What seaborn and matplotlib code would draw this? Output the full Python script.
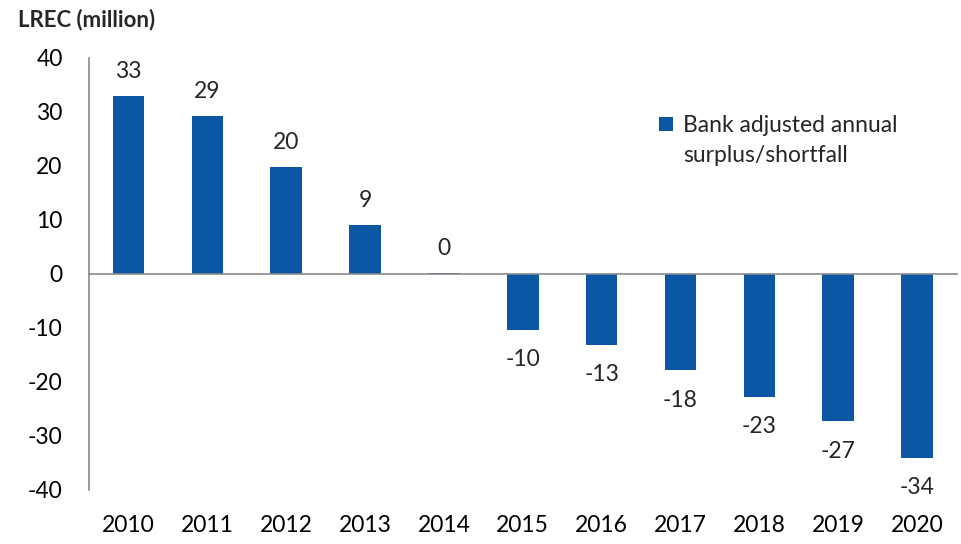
import numpy as np
import pandas as pd
import matplotlib
matplotlib.use("Agg")
import matplotlib.pyplot as plt
import seaborn as sns

# values (LREC, million)
years = ["2010", "2011", "2012", "2013", "2014", "2015",
         "2016", "2017", "2018", "2019", "2020"]
surplus = [32.8, 29.1, 19.7, 9.0, 0.1, -10.4, -13.2, -17.9, -22.8, -27.4, -34.1]
surplus_labels = [33, 29, 20, 9, 0, -10, -13, -18, -23, -27, -34]
y_ticks = [-40, -30, -20, -10, 0, 10, 20, 30, 40]
series_lines = ["Bank adjusted annual", "surplus/shortfall"]
y_title = "LREC (million)"

BAR_COLOR = "#0b57a4"
AXIS_GREY = "#8a8a8a"
FS = 16.5

sns.set_style("white")
plt.rcParams["font.family"] = ["Lato", "DejaVu Sans"]
plt.rcParams["axes.unicode_minus"] = False

df = pd.DataFrame({"year": years, "value": surplus})

fig = plt.figure(figsize=(9.61, 5.44), dpi=100)
ax = fig.add_axes([89 / 961, 1 - 489.5 / 544, (956.5 - 89) / 961, (489.5 - 57.5) / 544])

sns.barplot(data=df, x="year", y="value", color=BAR_COLOR, width=0.4,
            saturation=1, errorbar=None, linewidth=0, ax=ax,
            label=series_lines[0])

ax.set_ylim(-40, 40)
ax.set_xlim(-0.5, len(years) - 0.5)
ax.set_xlabel("")
ax.set_ylabel("")

# spines: left axis plus a zero line with category separators
for side in ["top", "right"]:
    ax.spines[side].set_visible(False)
ax.spines["left"].set_color(AXIS_GREY)
ax.spines["left"].set_linewidth(1.2)
ax.spines["bottom"].set_position(("data", 0))
ax.spines["bottom"].set_color(AXIS_GREY)
ax.spines["bottom"].set_linewidth(1.2)

ax.set_yticks(y_ticks)
ax.tick_params(axis="y", direction="out", length=7, width=1.2, color=AXIS_GREY,
               labelsize=FS, pad=12, labelcolor="black")
ax.set_xticks(np.arange(len(years) - 1) + 0.5, minor=True)
ax.tick_params(axis="x", which="major", length=0, labelbottom=False)
ax.tick_params(axis="x", which="minor", direction="out", length=7, width=1.2,
               color=AXIS_GREY)

# year labels along the bottom of the plot area
sec = ax.secondary_xaxis("bottom")
sec.set_xticks(np.arange(len(years)), labels=years)
sec.spines["bottom"].set_visible(False)
sec.tick_params(length=0, pad=18, labelsize=FS, labelcolor="black")

# value labels
bars = ax.containers[0]
pos_lbl = [str(l) if v >= 0 else "" for v, l in zip(surplus, surplus_labels)]
neg_lbl = [str(l) if v < 0 else "" for v, l in zip(surplus, surplus_labels)]
ax.bar_label(bars, labels=pos_lbl, padding=10, fontsize=FS)
ax.bar_label(bars, labels=neg_lbl, padding=14, fontsize=FS)

# legend: handle sits on the first line, second line hangs below it
leg = ax.legend(loc="upper left", bbox_to_anchor=(659 / 961, 1 - 115 / 544),
                bbox_transform=fig.transFigure, frameon=False, fontsize=FS,
                handlelength=0.6, handleheight=0.6, handletextpad=0.45,
                borderpad=0, borderaxespad=0)
ax.annotate(series_lines[1], xy=(0, 0), xycoords=leg.get_texts()[0],
            xytext=(0, -30), textcoords="offset pixels",
            ha="left", va="bottom", fontsize=FS, zorder=10)

fig.text(18 / 961, 1 - 20 / 544, y_title, fontsize=16, fontweight="bold",
         ha="left", va="center")

fig.savefig("out.png", dpi=100)
